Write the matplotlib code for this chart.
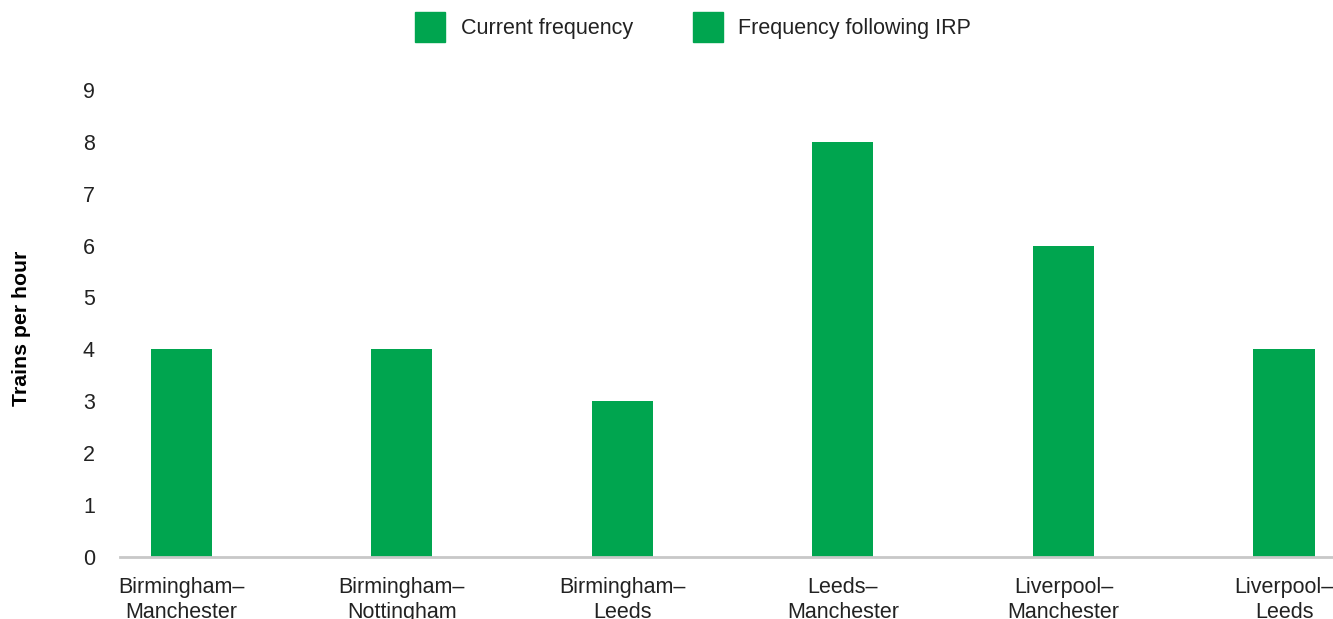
import matplotlib.pyplot as plt
from matplotlib.patches import Patch

plt.rcParams['font.family'] = ['Liberation Sans', 'DejaVu Sans']

routes = ['Birmingham–\nManchester', 'Birmingham–\nNottingham', 'Birmingham–\nLeeds',
          'Leeds–\nManchester', 'Liverpool–\nManchester', 'Liverpool–\nLeeds']
trains_per_hour = [4, 4, 3, 8, 6, 4]
series_names = ['Current frequency', 'Frequency following IRP']
green = '#00a54f'

fig = plt.figure(figsize=(13.33, 6.19), dpi=100)
ax = fig.add_axes([0.09, 0.1, 0.91, 0.755])

x = range(len(routes))
ax.bar(x, trains_per_hour, width=0.277, color=green)

ax.set_xlim(-0.277, 5.222)
ax.set_ylim(0, 9)
ax.set_yticks(range(0, 10))
ax.set_xticks(list(x))
ax.set_xticklabels(routes, fontsize=15.5, color='#222222', linespacing=1.25)
ax.tick_params(axis='y', length=0, labelsize=15.5, pad=18, labelcolor='#222222')
ax.tick_params(axis='x', length=0, pad=14)

for s in ['top', 'right', 'left']:
    ax.spines[s].set_visible(False)
ax.spines['bottom'].set_color('#c8c8c8')
ax.spines['bottom'].set_linewidth(2)

fig.text(0.016, 0.47, 'Trains per hour', rotation=90, fontsize=15.3,
         fontweight='bold', ha='center', va='center')

handles = [Patch(color=green, label=n) for n in series_names]
fig.legend(handles=handles, loc='upper center', bbox_to_anchor=(0.520, 1.012),
           ncol=2, frameon=False, fontsize=15.5, handlelength=1.4, handleheight=1.75,
           columnspacing=2.8, handletextpad=0.7, labelcolor='#222222')

fig.savefig('out.png', dpi=100)
